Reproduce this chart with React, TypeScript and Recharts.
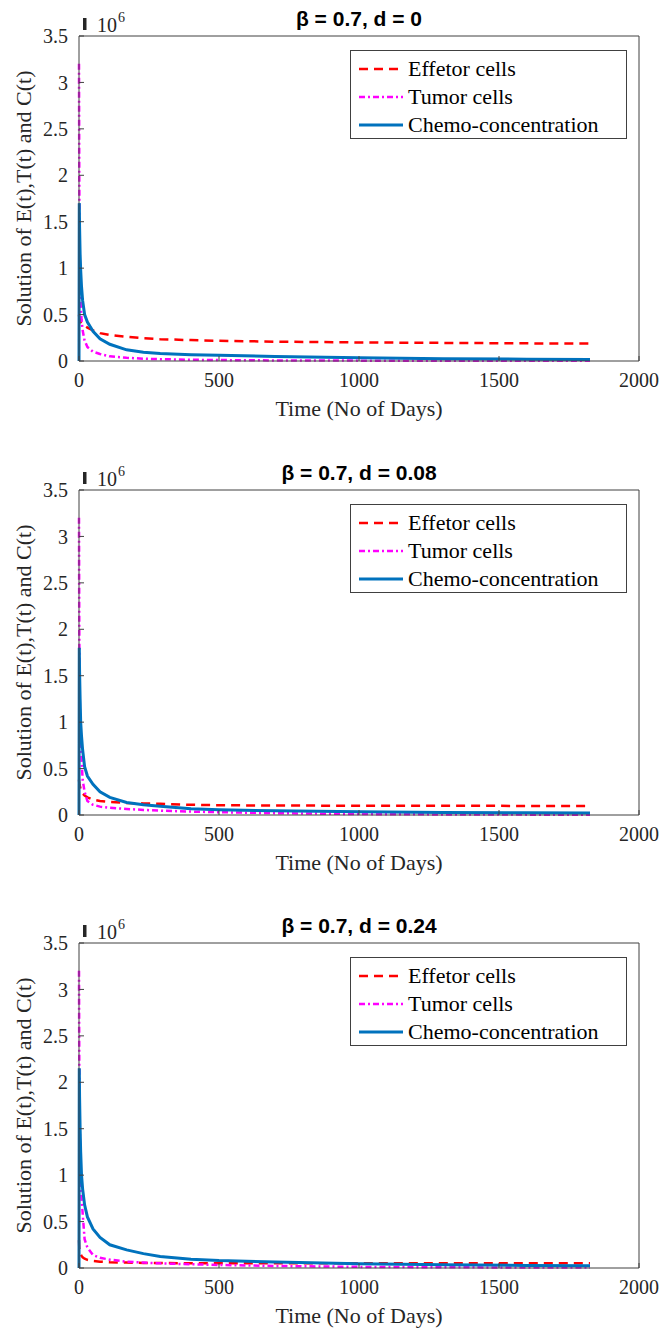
import React from 'react';
import { LineChart, Line, XAxis, YAxis, Legend } from 'recharts';

// time points (days) shared by all three panels
const days = [0, 1, 2, 4, 6, 9, 13, 20, 30, 50, 75, 110, 170, 230, 290, 400, 500, 700, 1000, 1300, 1600, 1825];

// values in units of 10^6
// beta = 0.7, d = 0
const effectorD0 = [0.5, 0.47, 0.45, 0.43, 0.42, 0.41, 0.4, 0.38, 0.36, 0.33, 0.3, 0.28, 0.26, 0.245, 0.235, 0.225, 0.218, 0.208, 0.2, 0.195, 0.19, 0.188];
const tumorD0 = [3.2, 2.0, 1.3, 0.85, 0.6, 0.45, 0.33, 0.22, 0.15, 0.1, 0.075, 0.05, 0.035, 0.025, 0.02, 0.013, 0.01, 0.006, 0.004, 0.003, 0.002, 0.002];
const chemoD0 = [0, 1.7, 1.45, 1.15, 0.98, 0.8, 0.65, 0.5, 0.42, 0.32, 0.24, 0.18, 0.12, 0.095, 0.08, 0.068, 0.062, 0.048, 0.035, 0.025, 0.02, 0.017];

// beta = 0.7, d = 0.08
const effectorD1 = [0.38, 0.35, 0.33, 0.3, 0.28, 0.25, 0.23, 0.21, 0.19, 0.165, 0.15, 0.14, 0.13, 0.125, 0.12, 0.11, 0.105, 0.102, 0.1, 0.099, 0.098, 0.098];
const tumorD1 = [3.2, 2.0, 1.4, 0.95, 0.8, 0.6, 0.38, 0.25, 0.15, 0.11, 0.09, 0.078, 0.065, 0.055, 0.047, 0.037, 0.03, 0.02, 0.01, 0.006, 0.004, 0.003];
const chemoD1 = [0, 1.8, 1.55, 1.25, 1.0, 0.85, 0.7, 0.52, 0.42, 0.33, 0.25, 0.19, 0.135, 0.11, 0.095, 0.068, 0.057, 0.045, 0.035, 0.028, 0.024, 0.022];

// beta = 0.7, d = 0.24
const effectorD2 = [0.3, 0.22, 0.19, 0.16, 0.15, 0.13, 0.115, 0.1, 0.088, 0.075, 0.068, 0.062, 0.058, 0.055, 0.053, 0.052, 0.051, 0.05, 0.05, 0.05, 0.05, 0.05];
const tumorD2 = [3.2, 2.2, 1.7, 1.2, 0.95, 0.75, 0.59, 0.31, 0.22, 0.14, 0.11, 0.09, 0.068, 0.058, 0.05, 0.04, 0.033, 0.022, 0.012, 0.008, 0.005, 0.004];
const chemoD2 = [0, 2.15, 1.85, 1.5, 1.25, 1.0, 0.85, 0.68, 0.55, 0.42, 0.33, 0.25, 0.195, 0.155, 0.125, 0.095, 0.08, 0.065, 0.045, 0.035, 0.028, 0.025];

const xTicks = [0, 500, 1000, 1500, 2000];
const yTicks = [0, 0.5, 1, 1.5, 2, 2.5, 3, 3.5];
const titles = ['β = 0.7, d = 0', 'β = 0.7, d = 0.08', 'β = 0.7, d = 0.24'];

const SERIES = [
  { key: 'E', name: 'Effetor cells', color: '#ff0000', width: 2.5, dash: '9 6' },
  { key: 'T', name: 'Tumor cells', color: '#ff00ff', width: 2.5, dash: '6 3 2 3' },
  { key: 'C', name: 'Chemo-concentration', color: '#0072bd', width: 3, dash: undefined },
];

// layout
const W = 659;
const PLOT_LEFT = 79;
const PLOT_TOP = 36;
const PLOT_W = 560;
const PLOT_H = 325;
const AXIS = '#404040';
const TXT = '#262626';
const SERIF = 'Liberation Serif, Times New Roman, serif';

const panels = [
  { title: titles[0], E: effectorD0, T: tumorD0, C: chemoD0, height: 454 },
  { title: titles[1], E: effectorD1, T: tumorD1, C: chemoD1, height: 453 },
  { title: titles[2], E: effectorD2, T: tumorD2, C: chemoD2, height: 424 },
];

const TopLabel = ({ title }: { title: string }) => {
  const cx = PLOT_LEFT + PLOT_W / 2;
  return (
    <g>
      <text x={cx} y={PLOT_TOP - 10} textAnchor="middle" fontFamily="Liberation Sans, Arial, sans-serif" fontWeight="bold" fontSize={21} fill="#000">
        {title}
      </text>
      <rect x={PLOT_LEFT + 4} y={PLOT_TOP - 18} width={3.5} height={12} fill={TXT} />
      <text x={PLOT_LEFT + 18} y={PLOT_TOP - 4} fontFamily={SERIF} fontSize={20} fill={TXT}>10</text>
      <text x={PLOT_LEFT + 39} y={PLOT_TOP - 14} fontFamily={SERIF} fontSize={14} fill={TXT}>6</text>
    </g>
  );
};

const XLabel = () => (
  <text x={PLOT_LEFT + PLOT_W / 2} y={PLOT_TOP + PLOT_H + 55} textAnchor="middle" fontFamily={SERIF} fontSize={22} fill={TXT}>
    Time (No of Days)
  </text>
);

const YLabel = () => {
  const x = 31;
  const y = PLOT_TOP + PLOT_H / 2;
  return (
    <text x={x} y={y} transform={`rotate(-90, ${x}, ${y})`} textAnchor="middle" fontFamily={SERIF} fontSize={22} fill={TXT}>
      Solution of E(t),T(t) and C(t)
    </text>
  );
};

const renderLegend = () => (
  <div
    style={{
      border: '1px solid ' + AXIS,
      background: '#fff',
      width: 277,
      height: 89,
      boxSizing: 'border-box',
      padding: '4px 0 0 8px',
      fontFamily: SERIF,
      fontSize: 22,
      color: '#000',
    }}
  >
    {SERIES.map((s) => (
      <div key={s.key} style={{ display: 'flex', alignItems: 'center', height: 28 }}>
        <svg width={44} height={10} style={{ display: 'block' }}>
          <line x1={0} y1={5} x2={44} y2={5} stroke={s.color} strokeWidth={s.width} strokeDasharray={s.dash} />
        </svg>
        <span style={{ marginLeft: 5, lineHeight: '28px', whiteSpace: 'nowrap' }}>{s.name}</span>
      </div>
    ))}
  </div>
);

const Panel = ({ p }: { p: (typeof panels)[number] }) => {
  const rows = days.map((t, i) => ({ t, E: p.E[i], T: p.T[i], C: p.C[i] }));
  const bottomAxisH = 60;
  const marginBottom = p.height - PLOT_TOP - PLOT_H - bottomAxisH;
  const tickStyle = { fill: TXT, fontSize: 20, fontFamily: SERIF };
  return (
    <LineChart
      width={W}
      height={p.height}
      data={rows}
      margin={{ top: PLOT_TOP - 1, right: W - PLOT_LEFT - PLOT_W - 1, bottom: marginBottom, left: 0 }}
    >
      <XAxis
        dataKey="t"
        type="number"
        domain={[0, 2000]}
        ticks={xTicks}
        interval={0}
        height={bottomAxisH}
        tickSize={-5}
        tickMargin={17}
        stroke={AXIS}
        tick={tickStyle}
        label={<XLabel />}
      />
      <XAxis
        xAxisId="top"
        orientation="top"
        dataKey="t"
        type="number"
        domain={[0, 2000]}
        ticks={xTicks}
        interval={0}
        height={1}
        tickSize={-5}
        tick={false}
        stroke={AXIS}
        label={<TopLabel title={p.title} />}
      />
      <YAxis
        type="number"
        domain={[0, 3.5]}
        ticks={yTicks}
        interval={0}
        width={PLOT_LEFT}
        tickSize={-5}
        tickMargin={16}
        stroke={AXIS}
        tick={tickStyle}
        tickFormatter={(v: number) => String(v)}
        label={<YLabel />}
      />
      <YAxis
        yAxisId="right"
        orientation="right"
        type="number"
        domain={[0, 3.5]}
        ticks={yTicks}
        interval={0}
        width={1}
        tickSize={-5}
        tick={false}
        stroke={AXIS}
      />
      <Legend
        layout="vertical"
        align="center"
        verticalAlign="middle"
        content={renderLegend}
        wrapperStyle={{ left: 350, top: PLOT_TOP + 14, width: 277, height: 89 }}
      />
      {SERIES.map((s) => (
        <Line
          key={s.key}
          dataKey={s.key}
          name={s.name}
          type="linear"
          stroke={s.color}
          strokeWidth={s.width}
          strokeDasharray={s.dash}
          dot={false}
          activeDot={false}
          isAnimationActive={false}
        />
      ))}
    </LineChart>
  );
};

export default function App() {
  return (
    <div style={{ position: 'absolute', left: 0, top: 0, width: W, background: '#fff' }}>
      {panels.map((p, i) => (
        <Panel key={i} p={p} />
      ))}
    </div>
  );
}
